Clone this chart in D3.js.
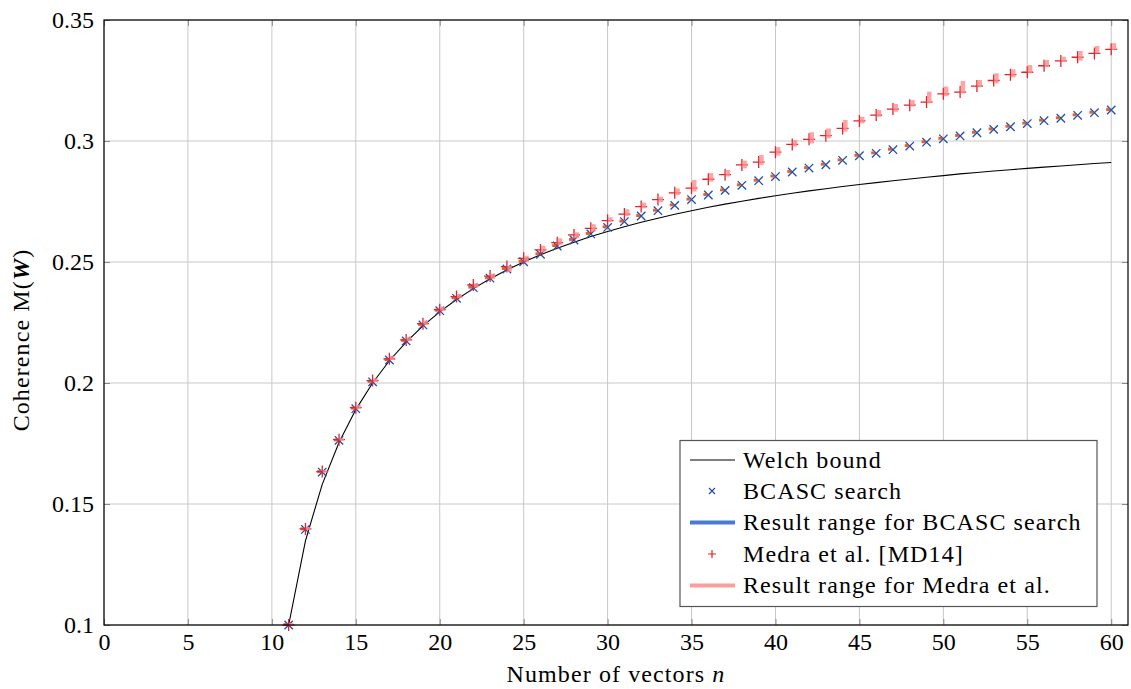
<!DOCTYPE html>
<html><head><meta charset="utf-8">
<script src="https://cdn.jsdelivr.net/npm/d3@7"></script>
<style>
html,body{margin:0;padding:0;background:#fff;}
text{font-family:"Liberation Serif","DejaVu Serif",serif;}
</style></head>
<body>
<svg id="chart" width="1131" height="689"></svg>
<script>
// ---------- data ----------
const vectorCounts = [11,12,13,14,15,16,17,18,19,20,21,22,23,24,25,26,27,28,29,30,31,32,33,34,35,36,37,38,39,40,41,42,43,44,45,46,47,48,49,50,51,52,53,54,55,56,57,58,59,60];
const welchBound = [0.1000,0.1348,0.1581,0.1754,0.1890,0.2000,0.2092,0.2169,0.2236,0.2294,
  0.2345,0.2390,0.2431,0.2467,0.2500,0.2530,0.2557,0.2582,0.2605,0.2626,
  0.2646,0.2664,0.2681,0.2697,0.2712,0.2726,0.2739,0.2751,0.2763,0.2774,
  0.2784,0.2794,0.2803,0.2812,0.2820,0.2828,0.2836,0.2843,0.2850,0.2857,
  0.2864,0.2870,0.2876,0.2881,0.2887,0.2892,0.2897,0.2902,0.2907,0.2911];
const bcascSearch = [0.1000,0.1395,0.1632,0.1763,0.1894,0.2005,0.2095,0.2174,0.2240,0.2299,
  0.2350,0.2394,0.2433,0.2471,0.2501,0.2532,0.2566,0.2591,0.2616,0.2643,
  0.2667,0.2690,0.2712,0.2734,0.2758,0.2777,0.2796,0.2817,0.2836,0.2853,
  0.2872,0.2888,0.2902,0.2920,0.2939,0.2949,0.2964,0.2979,0.2995,0.3009,
  0.3021,0.3034,0.3048,0.3059,0.3072,0.3084,0.3094,0.3106,0.3117,0.3128];
const bcascRangeLo = [0.0996,0.1391,0.1628,0.1759,0.1890,0.2001,0.2091,0.2170,0.2236,0.2295,
  0.2346,0.2390,0.2429,0.2467,0.2497,0.2528,0.2562,0.2587,0.2612,0.2639,
  0.2663,0.2686,0.2708,0.2730,0.2754,0.2773,0.2792,0.2813,0.2832,0.2849,
  0.2868,0.2884,0.2898,0.2916,0.2935,0.2945,0.2960,0.2975,0.2991,0.3005,
  0.3017,0.3030,0.3044,0.3055,0.3068,0.3080,0.3090,0.3102,0.3113,0.3124];
const bcascRangeHi = [0.1008,0.1403,0.1640,0.1771,0.1902,0.2013,0.2103,0.2182,0.2248,0.2307,
  0.2358,0.2402,0.2441,0.2479,0.2509,0.2540,0.2574,0.2599,0.2624,0.2651,
  0.2675,0.2698,0.2720,0.2742,0.2766,0.2785,0.2804,0.2825,0.2844,0.2861,
  0.2880,0.2896,0.2910,0.2928,0.2947,0.2957,0.2972,0.2987,0.3003,0.3017,
  0.3029,0.3042,0.3056,0.3067,0.3080,0.3092,0.3102,0.3114,0.3125,0.3136];
const medra = [0.1000,0.1397,0.1634,0.1766,0.1898,0.2010,0.2100,0.2178,0.2245,0.2303,
  0.2357,0.2405,0.2442,0.2481,0.2515,0.2550,0.2580,0.2612,0.2639,0.2671,
  0.2698,0.2729,0.2758,0.2786,0.2805,0.2842,0.2861,0.2901,0.2913,0.2954,
  0.2986,0.3007,0.3022,0.3052,0.3083,0.3107,0.3132,0.3148,0.3161,0.3195,
  0.3202,0.3227,0.3250,0.3274,0.3284,0.3311,0.3331,0.3346,0.3362,0.3379];
const medraRangeLo = [0.1000,0.1392,0.1630,0.1762,0.1893,0.2004,0.2095,0.2173,0.2240,0.2298,
  0.2350,0.2394,0.2430,0.2460,0.2501,0.2540,0.2570,0.2598,0.2625,0.2667,
  0.2690,0.2722,0.2747,0.2777,0.2791,0.2832,0.2853,0.2887,0.2901,0.2940,
  0.2977,0.2990,0.3011,0.3039,0.3073,0.3100,0.3121,0.3142,0.3156,0.3185,
  0.3197,0.3222,0.3238,0.3263,0.3280,0.3307,0.3328,0.3332,0.3362,0.3376];
const medraRangeHi = [0.1008,0.1405,0.1640,0.1772,0.1910,0.2020,0.2112,0.2190,0.2258,0.2315,
  0.2368,0.2412,0.2452,0.2485,0.2526,0.2567,0.2598,0.2623,0.2656,0.2685,
  0.2718,0.2745,0.2770,0.2804,0.2839,0.2867,0.2880,0.2919,0.2942,0.2975,
  0.3004,0.3036,0.3052,0.3087,0.3100,0.3128,0.3153,0.3169,0.3204,0.3225,
  0.3248,0.3252,0.3280,0.3296,0.3314,0.3335,0.3348,0.3372,0.3393,0.3404];
const xTicks = [0,5,10,15,20,25,30,35,40,45,50,55,60];
const yTicks = [0.1,0.15,0.2,0.25,0.3,0.35];
const yTickLabels = ["0.1","0.15","0.2","0.25","0.3","0.35"];
const legendLabels = ["Welch bound","BCASC search","Result range for BCASC search","Medra et al. [MD14]","Result range for Medra et al."];

// ---------- layout ----------
const L = 104, R = 1128, T = 20, B = 625;
const svg = d3.select("#chart");
const x = d3.scaleLinear().domain([0, 61]).range([L, R]);
const y = d3.scaleLinear().domain([0.1, 0.35]).range([B, T]);

const cBlue = "#1f4db3", cRed = "#d9262e", cPink = "#ff8c8c", cOrange = "#d4541c", cLegBlue = "#4a7bd4";
const FS = 24, LS = "1.1px";

// grid
const g = svg.append("g");
g.selectAll(".gx").data(xTicks).enter().append("line")
  .attr("x1", d => x(d)).attr("x2", d => x(d)).attr("y1", T).attr("y2", B)
  .attr("stroke", "#c8c8c8").attr("stroke-width", 1);
g.selectAll(".gy").data(yTicks).enter().append("line")
  .attr("x1", L).attr("x2", R).attr("y1", d => y(d)).attr("y2", d => y(d))
  .attr("stroke", "#c8c8c8").attr("stroke-width", 1);

// axes (ticks inside, both sides)
const tickLen = 6;
const axB = svg.append("g").attr("transform", `translate(0,${B})`)
  .call(d3.axisBottom(x).tickValues(xTicks).tickSize(-tickLen).tickPadding(8).tickFormat(d3.format("d")));
const axT = svg.append("g").attr("transform", `translate(0,${T})`)
  .call(d3.axisTop(x).tickValues(xTicks).tickSize(-tickLen).tickFormat(""));
const axL = svg.append("g").attr("transform", `translate(${L},0)`)
  .call(d3.axisLeft(y).tickValues(yTicks).tickSize(-tickLen).tickPadding(10).tickFormat((d,i) => yTickLabels[i]));
const axR = svg.append("g").attr("transform", `translate(${R},0)`)
  .call(d3.axisRight(y).tickValues(yTicks).tickSize(-tickLen).tickFormat(""));
[axB, axT, axL, axR].forEach(a => {
  a.select(".domain").remove();
  a.selectAll(".tick line").attr("stroke", "#8a8a8a").attr("stroke-width", 1);
  a.selectAll(".tick text").attr("font-size", FS).attr("fill", "#000")
   .style("font-family", '"Liberation Serif", serif');
});

const clip = svg.append("clipPath").attr("id", "clipPlot").append("rect")
  .attr("x", L).attr("y", T).attr("width", R - L).attr("height", B - T);
const plot = svg.append("g").attr("clip-path", "url(#clipPlot)");

// Welch bound line
const pts = vectorCounts.map((n, i) => [n, welchBound[i]]);
plot.append("path").datum(pts)
  .attr("d", d3.line().x(d => x(d[0])).y(d => y(d[1])))
  .attr("fill", "none").attr("stroke", "#000").attr("stroke-width", 1.1);

// BCASC markers (x)
const xs = 4.2;
const bc = svg.append("g");
vectorCounts.forEach((n, i) => {
  const cx = x(n), cy = y(bcascSearch[i]);
  bc.append("path").attr("d", `M${cx-xs},${cy-xs}L${cx+xs},${cy+xs}M${cx-xs},${cy+xs}L${cx+xs},${cy-xs}`)
    .attr("stroke", cBlue).attr("stroke-width", 1.3).attr("fill", "none");
});
// BCASC ranges
vectorCounts.forEach((n, i) => {
  const y0 = y(bcascRangeLo[i]), y1 = y(bcascRangeHi[i]);
  bc.append("rect").attr("x", x(n) - 5).attr("y", y1).attr("width", 4).attr("height", Math.max(2.5, y0 - y1))
    .attr("fill", cOrange).attr("opacity", 0.9);
});
// Medra markers (+)
const ps = 6;
const md = svg.append("g");
vectorCounts.forEach((n, i) => {
  const cx = x(n), cy = y(medra[i]);
  md.append("path").attr("d", `M${cx-ps},${cy}L${cx+ps},${cy}M${cx},${cy-ps}L${cx},${cy+ps}`)
    .attr("stroke", cRed).attr("stroke-width", 1.3).attr("fill", "none");
});
// Medra ranges
vectorCounts.forEach((n, i) => {
  const y0 = y(medraRangeLo[i]), y1 = y(medraRangeHi[i]);
  md.append("rect").attr("x", x(n) + 0.5).attr("y", y1).attr("width", 4.5).attr("height", Math.max(2.5, y0 - y1))
    .attr("fill", cPink).attr("opacity", 0.8);
});

// frame
svg.append("rect").attr("x", L).attr("y", T).attr("width", R - L).attr("height", B - T)
  .attr("fill", "none").attr("stroke", "#000").attr("stroke-width", 1.2);

// axis labels
const xl = svg.append("text").attr("x", (L + R) / 2).attr("y", 682).attr("text-anchor", "middle")
  .attr("font-size", FS).style("letter-spacing", LS);
xl.append("tspan").text("Number of vectors ");
xl.append("tspan").attr("font-style", "italic").text("n");
const yl = svg.append("text").attr("transform", `translate(29,340) rotate(-90)`)
  .attr("text-anchor", "middle").attr("font-size", FS).style("letter-spacing", LS);
yl.append("tspan").text("Coherence M(");
yl.append("tspan").attr("font-weight", "bold").attr("font-style", "italic").text("W");
yl.append("tspan").text(")");

// legend
const lg = svg.append("g");
lg.append("rect").attr("x", 680).attr("y", 440.5).attr("width", 417).attr("height", 166)
  .attr("fill", "#fff").attr("stroke", "#555").attr("stroke-width", 1.2);
const rowY = [460, 491, 522.5, 554, 585.5];
const lx0 = 690, lx1 = 735, lmx = 712;
lg.append("line").attr("x1", lx0).attr("x2", lx1).attr("y1", rowY[0]).attr("y2", rowY[0]).attr("stroke", "#000").attr("stroke-width", 1.1);
lg.append("path").attr("d", `M${lmx-3},${rowY[1]-3}L${lmx+3},${rowY[1]+3}M${lmx-3},${rowY[1]+3}L${lmx+3},${rowY[1]-3}`)
  .attr("stroke", cBlue).attr("stroke-width", 1.2);
lg.append("line").attr("x1", lx0).attr("x2", lx1).attr("y1", rowY[2]).attr("y2", rowY[2]).attr("stroke", cLegBlue).attr("stroke-width", 4);
lg.append("path").attr("d", `M${lmx-4},${rowY[3]}L${lmx+4},${rowY[3]}M${lmx},${rowY[3]-4}L${lmx},${rowY[3]+4}`)
  .attr("stroke", cRed).attr("stroke-width", 1.2);
lg.append("line").attr("x1", lx0).attr("x2", lx1).attr("y1", rowY[4]).attr("y2", rowY[4]).attr("stroke", "#ff9c9c").attr("stroke-width", 4);
legendLabels.forEach((t, i) => {
  lg.append("text").attr("x", 743).attr("y", rowY[i]).attr("dy", "0.33em").attr("font-size", FS)
    .style("letter-spacing", LS).text(t);
});
</script>
</body></html>
